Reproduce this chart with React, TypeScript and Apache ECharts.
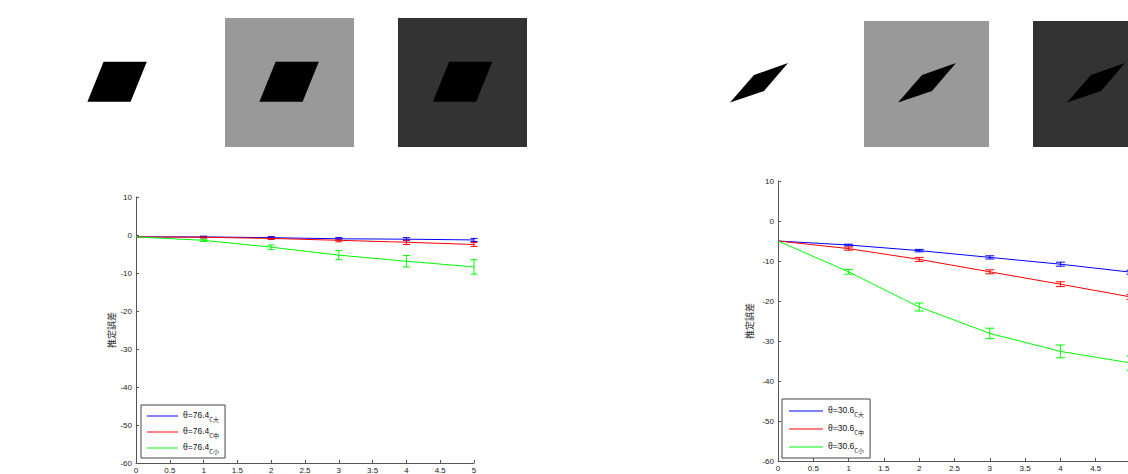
import React, { useEffect, useRef } from "react";
import * as echarts from "echarts";

// ---------- data ----------
const X_VALUES = [0, 1, 2, 3, 4, 5];

const LEFT_NAMES = ["θ=76.4|C大", "θ=76.4|C中", "θ=76.4|C小"];
const LEFT_BLUE = [-0.5, -0.5, -0.7, -1.0, -1.1, -1.3];
const LEFT_RED = [-0.5, -0.6, -0.9, -1.4, -1.9, -2.5];
const LEFT_GREEN = [-0.5, -1.4, -3.2, -5.3, -6.9, -8.4];
const LEFT_BLUE_ERR = [0, 0.2, 0.3, 0.3, 0.4, 0.4];
const LEFT_RED_ERR = [0, 0.2, 0.3, 0.4, 0.6, 0.5];
const LEFT_GREEN_ERR = [0, 0.3, 0.6, 1.2, 1.5, 1.9];

const RIGHT_NAMES = ["θ=30.6|C大", "θ=30.6|C中", "θ=30.6|C小"];
const RIGHT_BLUE = [-5.0, -6.0, -7.4, -9.1, -10.8, -12.8];
const RIGHT_RED = [-5.0, -6.9, -9.6, -12.7, -15.8, -19.0];
const RIGHT_GREEN = [-5.0, -12.7, -21.5, -28.1, -32.6, -35.5];
const RIGHT_BLUE_ERR = [0, 0.2, 0.3, 0.4, 0.5, 0.5];
const RIGHT_RED_ERR = [0, 0.4, 0.5, 0.5, 0.6, 0.6];
const RIGHT_GREEN_ERR = [0, 0.6, 1.0, 1.3, 1.6, 1.8];

const Y_LABEL = "推定誤差";
const COLORS = ["#0000ff", "#ff0000", "#00ff00"];

const NUM_FONT = "'Liberation Sans Narrow', 'Arial Narrow', 'Liberation Sans', Arial, sans-serif";
const JP_FONT = "'Noto Sans CJK JP', sans-serif";

function pairs(ys: number[]) {
  return X_VALUES.map((x, i) => [x, ys[i]]);
}
function errData(ys: number[], errs: number[]) {
  const out: number[][] = [];
  X_VALUES.forEach((x, i) => {
    if (errs[i] > 0) out.push([x, ys[i] - errs[i], ys[i] + errs[i]]);
  });
  return out;
}

function makeErrSeries(idx: number, ys: number[], errs: number[], color: string, cap: number) {
  return {
    type: "custom",
    xAxisIndex: idx,
    yAxisIndex: idx,
    silent: true,
    clip: false,
    z: 3,
    data: errData(ys, errs),
    renderItem: (params: any, api: any) => {
      const x = api.value(0);
      const lo = api.coord([x, api.value(1)]);
      const hi = api.coord([x, api.value(2)]);
      const st = { stroke: color, lineWidth: 1, fill: "none" };
      return {
        type: "group",
        children: [
          { type: "line", shape: { x1: lo[0], y1: lo[1], x2: hi[0], y2: hi[1] }, style: st },
          { type: "line", shape: { x1: lo[0] - cap, y1: lo[1], x2: lo[0] + cap, y2: lo[1] }, style: st },
          { type: "line", shape: { x1: hi[0] - cap, y1: hi[1], x2: hi[0] + cap, y2: hi[1] }, style: st },
        ],
      };
    },
  };
}

function lineSeries(idx: number, name: string, ys: number[], color: string) {
  return {
    type: "line",
    name,
    xAxisIndex: idx,
    yAxisIndex: idx,
    data: pairs(ys),
    symbol: "none",
    lineStyle: { color, width: 1 },
    itemStyle: { color },
    z: 4,
  };
}

const fmtNum = (v: number) => String(v);

function xAxis(idx: number, showMax: boolean) {
  return {
    type: "value",
    gridIndex: idx,
    min: 0,
    max: 5,
    interval: 0.5,
    axisLine: { show: true, onZero: false, lineStyle: { color: "#555", width: 1 } },
    axisTick: { show: true, inside: true, length: 3, lineStyle: { color: "#555" } },
    splitLine: { show: false },
    axisLabel: { fontSize: 8, color: "#222", fontFamily: NUM_FONT, margin: 3, formatter: fmtNum, showMaxLabel: showMax },
  };
}
function yAxis(idx: number, gap: number) {
  return {
    type: "value",
    gridIndex: idx,
    min: -60,
    max: 10,
    interval: 10,
    name: Y_LABEL,
    nameLocation: "middle",
    nameGap: gap,
    nameTextStyle: { fontSize: 9, color: "#222", fontFamily: JP_FONT },
    axisLine: { show: true, onZero: false, lineStyle: { color: "#555", width: 1 } },
    axisTick: { show: true, inside: true, length: 3, lineStyle: { color: "#555" } },
    splitLine: { show: false },
    axisLabel: { fontSize: 8, color: "#222", fontFamily: NUM_FONT, margin: 4, formatter: fmtNum },
  };
}

function legend(names: string[], left: number, top: number, itemWidth: number, gap: number, pad: number[]) {
  return {
    show: true,
    orient: "vertical",
    left,
    top,
    data: names,
    icon: "rect",
    itemWidth,
    itemHeight: 1,
    itemGap: gap,
    padding: pad,
    backgroundColor: "#fff",
    borderColor: "#444",
    borderWidth: 1,
    borderRadius: 0,
    selectedMode: false,
    formatter: (name: string) => {
      const [a, b] = name.split("|");
      return `{a|${a}}{b|${b}}`;
    },
    textStyle: {
      color: "#111",
      rich: {
        a: { fontSize: 8.5, color: "#111", fontFamily: NUM_FONT, lineHeight: 12, verticalAlign: "top" },
        b: { fontSize: 6, color: "#111", fontFamily: JP_FONT, lineHeight: 12, padding: [6, 0, 0, 0], verticalAlign: "bottom" },
      },
    },
  };
}

function poly(points: number[][], dx: number) {
  return {
    type: "polygon",
    shape: { points: points.map((p) => [p[0] + dx, p[1]]) },
    style: { fill: "#000" },
    silent: true,
  };
}

const LEFT_SHAPE = [[103.6, 61.7], [146.8, 61.7], [130.6, 101.7], [87.4, 101.7]];
const RIGHT_SHAPE = [[730, 102.5], [754, 75], [788, 63], [764, 91]];

export default function App() {
  const ref = useRef<HTMLDivElement>(null);
  useEffect(() => {
    if (!ref.current) return;
    const chart = echarts.init(ref.current, null, { renderer: "svg" });
    chart.setOption({
      animation: false,
      backgroundColor: "#fff",
      grid: [
        { left: 136, width: 338, top: 197, height: 266, containLabel: false, outerBoundsMode: "none" },
        { left: 778, width: 353, top: 181, height: 280, containLabel: false, outerBoundsMode: "none" },
      ],
      xAxis: [xAxis(0, true), xAxis(1, false)],
      yAxis: [yAxis(0, 20), yAxis(1, 24)],
      legend: [
        legend(LEFT_NAMES, 141, 405, 31, 4, [5, 6, 4, 6]),
        legend(RIGHT_NAMES, 782, 399, 34, 6, [6, 6, 5, 7]),
      ],
      graphic: [
        { type: "rect", shape: { x: 225, y: 18, width: 129, height: 129 }, style: { fill: "#999999" }, silent: true },
        { type: "rect", shape: { x: 398, y: 18, width: 129, height: 129 }, style: { fill: "#333333" }, silent: true },
        poly(LEFT_SHAPE, 0),
        poly(LEFT_SHAPE, 172),
        poly(LEFT_SHAPE, 345.5),
        { type: "rect", shape: { x: 864, y: 21, width: 125, height: 126 }, style: { fill: "#999999" }, silent: true },
        { type: "rect", shape: { x: 1033, y: 21, width: 125, height: 126 }, style: { fill: "#333333" }, silent: true },
        poly(RIGHT_SHAPE, 0),
        poly(RIGHT_SHAPE, 168),
        poly(RIGHT_SHAPE, 337),
      ],
      series: [
        lineSeries(0, LEFT_NAMES[0], LEFT_BLUE, COLORS[0]),
        lineSeries(0, LEFT_NAMES[1], LEFT_RED, COLORS[1]),
        lineSeries(0, LEFT_NAMES[2], LEFT_GREEN, COLORS[2]),
        makeErrSeries(0, LEFT_BLUE, LEFT_BLUE_ERR, COLORS[0], 3.5),
        makeErrSeries(0, LEFT_RED, LEFT_RED_ERR, COLORS[1], 3.5),
        makeErrSeries(0, LEFT_GREEN, LEFT_GREEN_ERR, COLORS[2], 3.5),
        lineSeries(1, RIGHT_NAMES[0], RIGHT_BLUE, COLORS[0]),
        lineSeries(1, RIGHT_NAMES[1], RIGHT_RED, COLORS[1]),
        lineSeries(1, RIGHT_NAMES[2], RIGHT_GREEN, COLORS[2]),
        makeErrSeries(1, RIGHT_BLUE, RIGHT_BLUE_ERR, COLORS[0], 4.5),
        makeErrSeries(1, RIGHT_RED, RIGHT_RED_ERR, COLORS[1], 4.5),
        makeErrSeries(1, RIGHT_GREEN, RIGHT_GREEN_ERR, COLORS[2], 4.5),
      ],
    });
    return () => chart.dispose();
  }, []);
  return (
    <div
      ref={ref}
      style={{ position: "absolute", left: 0, top: 0, width: 1128, height: 474, overflow: "hidden" }}
    />
  );
}
